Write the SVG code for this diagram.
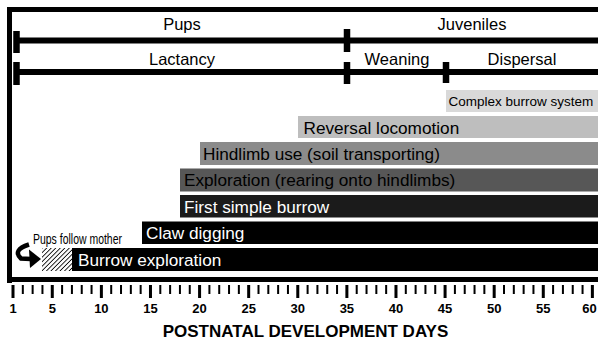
<svg xmlns="http://www.w3.org/2000/svg" width="598" height="343" viewBox="0 0 598 343">
<style>
.t{font-family:"Liberation Sans",Arial,sans-serif;font-size:16.5px;fill:#000}
.b{font-size:17.2px}
.w{fill:#fff}
.ax{font-family:"Liberation Sans",Arial,sans-serif;font-weight:bold;font-size:13px;fill:#000;text-anchor:middle}
.ln{stroke:#000;stroke-width:6;fill:none}
.tk{stroke:#000;stroke-width:6.5;fill:none}
.mid{text-anchor:middle}
</style>
<defs>
<pattern id="hatch" width="3.2" height="3.2" patternUnits="userSpaceOnUse" patternTransform="rotate(45)">
<rect width="3.2" height="3.2" fill="#fff"/>
<line x1="0" y1="0" x2="0" y2="3.2" stroke="#000" stroke-width="1.7"/>
</pattern>
</defs>
<rect width="598" height="343" fill="#fff"/>
<g id="frame">
<path d="M9.5 283 V9.5 H598" stroke="#000" stroke-width="5" fill="none"/>
<path d="M7 279.5 H598" stroke="#000" stroke-width="5" fill="none"/>
</g>
<g id="stage-row">
<path class="ln" d="M16 40.5 H598"/>
<path class="tk" d="M16.5 31 V53 M347 29 V52"/>
<text class="t mid" x="182" y="30">Pups</text>
<text class="t mid" x="472" y="30">Juveniles</text>
</g>
<g id="phase-row">
<path class="ln" d="M16 72 H598"/>
<path class="tk" d="M16.5 62 V85 M347 62 V84 M446 62 V83"/>
<text class="t mid" x="182" y="65">Lactancy</text>
<text class="t mid" x="397" y="65">Weaning</text>
<text class="t mid" x="522" y="65">Dispersal</text>
</g>
<g id="complex-burrow">
<rect x="446" y="90" width="152" height="22" fill="#d9d9d9"/>
<text class="t" x="448.5" y="106" style="font-size:13.5px">Complex burrow system</text>
</g>
<g id="reversal-locomotion">
<rect x="298" y="116" width="300" height="22" fill="#bebebe"/>
<text class="t b" x="303.5" y="133.5">Reversal locomotion</text>
</g>
<g id="hindlimb-use">
<rect x="200" y="142" width="398" height="23" fill="#8b8b8b"/>
<text class="t b" x="203" y="160">Hindlimb use (soil transporting)</text>
</g>
<g id="exploration-rearing">
<rect x="180" y="168.5" width="418" height="23" fill="#575757"/>
<text class="t b" x="184" y="186">Exploration (rearing onto hindlimbs)</text>
</g>
<g id="first-simple-burrow">
<rect x="180" y="195" width="418" height="22.5" fill="#1b1b1b"/>
<text class="t b w" x="184" y="212.5">First simple burrow</text>
</g>
<g id="claw-digging">
<rect x="142" y="221.5" width="456" height="22.5" fill="#000"/>
<text class="t b w" x="146" y="239">Claw digging</text>
</g>
<g id="burrow-exploration">
<rect x="42" y="248" width="30" height="23" fill="url(#hatch)"/>
<rect x="72" y="248" width="526" height="23" fill="#000"/>
<text class="t b w" x="78" y="265.5">Burrow exploration</text>
</g>
<g id="pups-follow-mother">
<text class="t" x="33" y="243.5" style="font-size:14px" textLength="89" lengthAdjust="spacingAndGlyphs">Pups follow mother</text>
</g>
<g id="connectors">
<path d="M29 244.5 Q12 250 21 258.5 L31 259" stroke="#000" stroke-width="4.5" fill="none"/>
<polygon points="29,249.5 41,259 30,268" fill="#000"/>
</g>
<g id="axis">
<path stroke="#000" stroke-width="2" fill="none" d="M22.82 285V294M32.64 285V294M42.46 285V294M62.1 285V294M71.92 285V294M81.74 285V294M91.56 285V294M111.2 285V294M121.02 285V294M130.84 285V294M140.66 285V294M160.3 285V294M170.12 285V294M179.94 285V294M189.76 285V294M209.4 285V294M219.22 285V294M229.04 285V294M238.86 285V294M258.5 285V294M268.32 285V294M278.14 285V294M287.96 285V294M307.6 285V294M317.42 285V294M327.24 285V294M337.06 285V294M356.7 285V294M366.52 285V294M376.34 285V294M386.16 285V294M405.8 285V294M415.62 285V294M425.44 285V294M435.26 285V294M454.9 285V294M464.72 285V294M474.54 285V294M484.36 285V294M504 285V294M513.82 285V294M523.64 285V294M533.46 285V294M553.1 285V294M562.92 285V294M572.74 285V294M582.56 285V294"/>
<path stroke="#000" stroke-width="3" fill="none" d="M13 285V298M52.28 285V298M101.38 285V298M150.48 285V298M199.58 285V298M248.68 285V298M297.78 285V298M346.88 285V298M395.98 285V298M445.08 285V298M494.18 285V298M543.28 285V298M592.38 285V298"/>
<text class="ax" x="13" y="313">1</text>
<text class="ax" x="52.28" y="313">5</text>
<text class="ax" x="101.38" y="313">10</text>
<text class="ax" x="150.48" y="313">15</text>
<text class="ax" x="199.58" y="313">20</text>
<text class="ax" x="248.68" y="313">25</text>
<text class="ax" x="297.78" y="313">30</text>
<text class="ax" x="346.88" y="313">35</text>
<text class="ax" x="395.98" y="313">40</text>
<text class="ax" x="445.08" y="313">45</text>
<text class="ax" x="494.18" y="313">50</text>
<text class="ax" x="543.28" y="313">55</text>
<text class="ax" x="589.5" y="313">60</text>
<text class="ax" x="305.5" y="337" style="font-size:17px">POSTNATAL DEVELOPMENT DAYS</text>
</g>
</svg>
